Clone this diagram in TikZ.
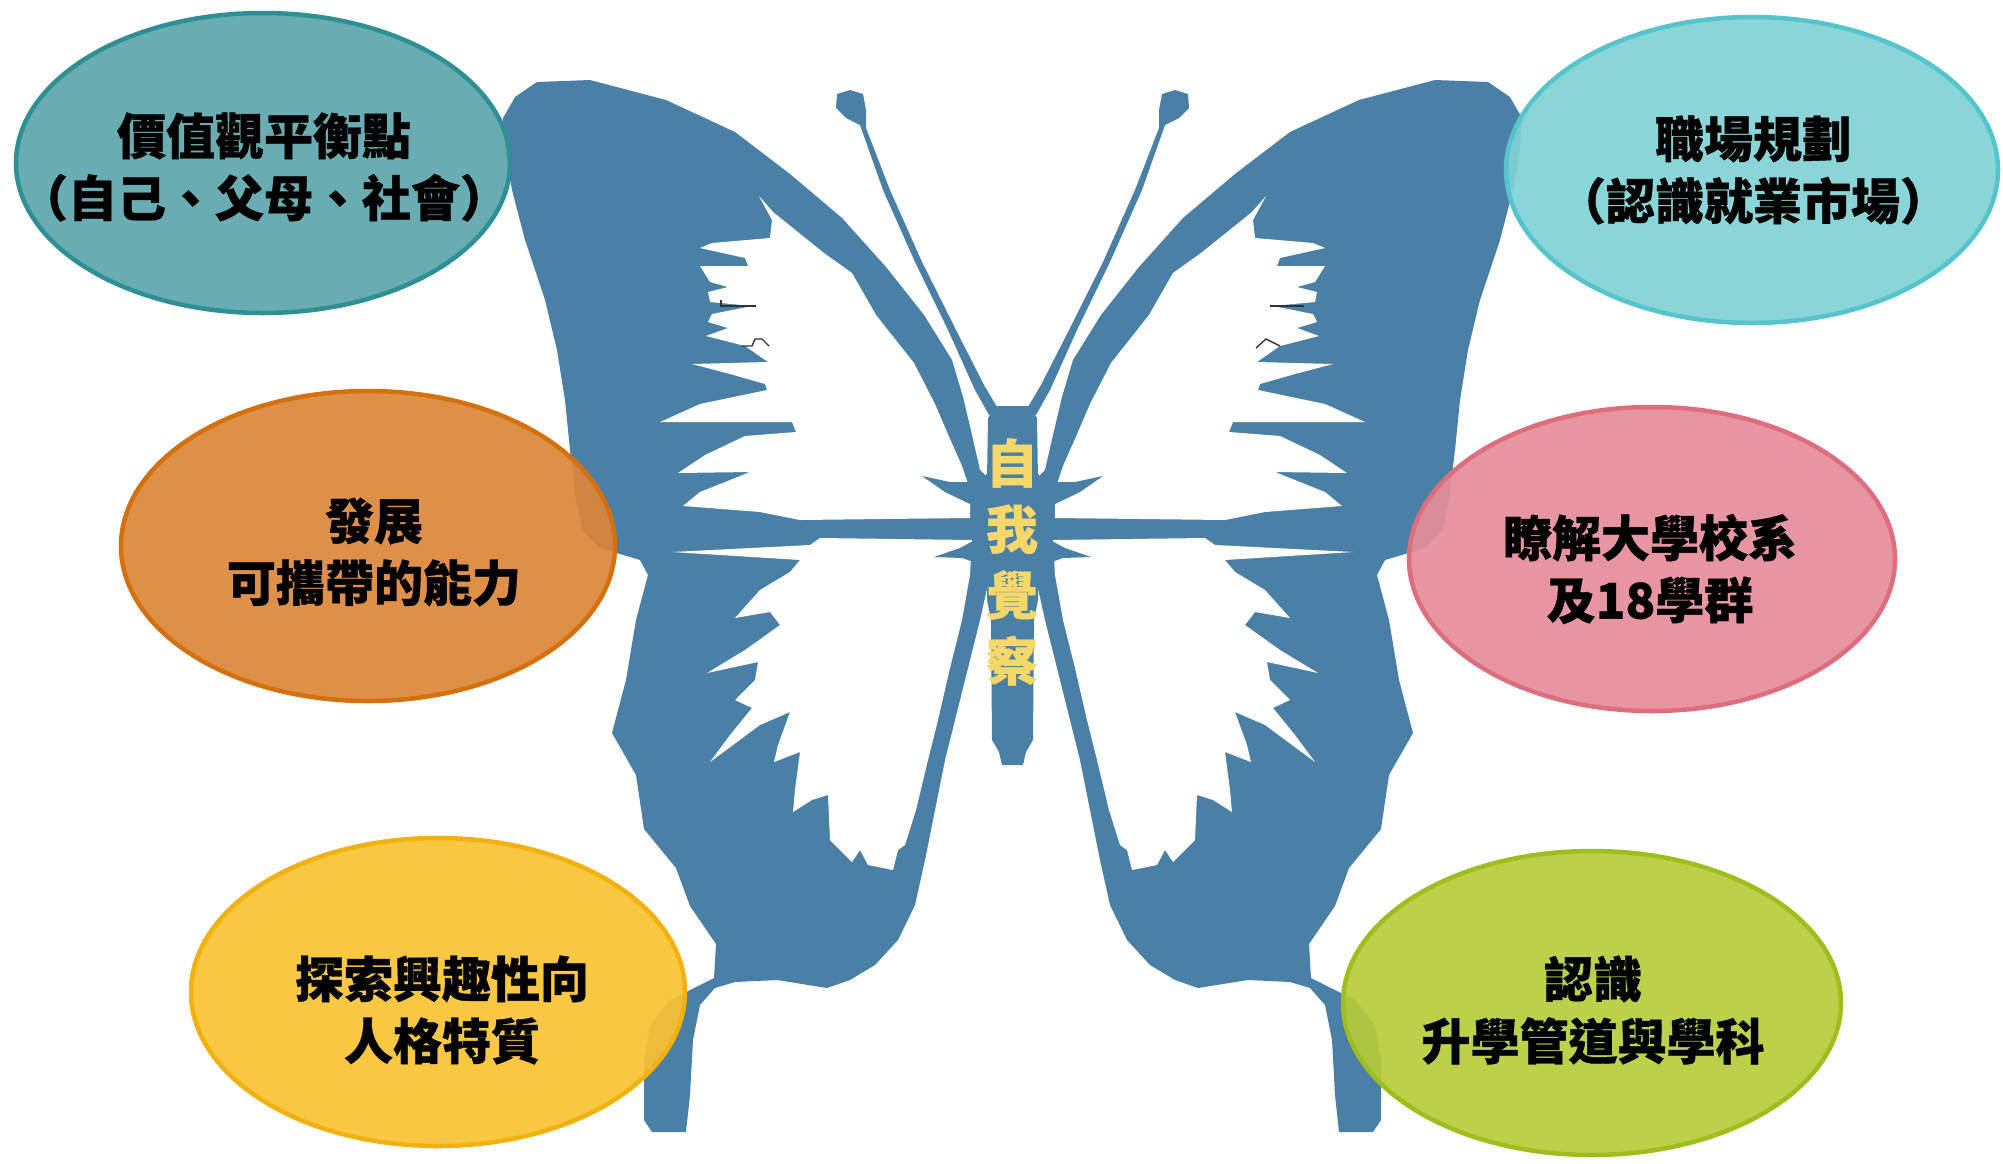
\documentclass[tikz,border=0pt]{standalone}
\usepackage{fontspec}
\usetikzlibrary{shapes.geometric}
\newfontfamily\cjkfont{Noto Sans CJK TC}[BoldFeatures={FakeBold=0.8}]
\definecolor{bflyblue}{HTML}{4A7FA6}
\definecolor{coretext}{HTML}{F6D86A}
\definecolor{tealF}{HTML}{5DA7AC}\definecolor{tealD}{HTML}{2E9096}
\definecolor{cyanF}{HTML}{80D2D5}\definecolor{cyanD}{HTML}{55C4CC}
\definecolor{orangeF}{HTML}{DC873A}\definecolor{orangeD}{HTML}{D5700F}
\definecolor{pinkF}{HTML}{E68E9A}\definecolor{pinkD}{HTML}{DE6E7E}
\definecolor{yellowF}{HTML}{FAC334}\definecolor{yellowD}{HTML}{F2B10E}
\definecolor{greenF}{HTML}{B7CC3A}\definecolor{greenD}{HTML}{9EBE1E}
\newcommand\bflyhalf{%
  % wing silhouette
  \fill[wingfill] (537,82) -- (590,80) -- (666,100) -- (735,132) -- (790,174) -- (842,218) -- (886,267) -- (924,315) -- (952,360) -- (963,397) -- (972,435) -- (980,470) -- (990,480) -- (990,575) -- (980,620) -- (968,668) -- (955,720) -- (945,760) -- (935,810) -- (925,860) -- (915,905) -- (898,940) -- (875,965) -- (850,980) -- (827,988) -- (777,980) -- (735,982) -- (715,988) -- (700,1005) -- (693,1040) -- (690,1095) -- (686,1132) -- (652,1132) -- (644,1120) -- (644,1060) -- (650,1025) -- (670,1000) -- (714,978) -- (716,944) -- (690,906) -- (676,868) -- (644,829) -- (636,775) -- (612,733) -- (626,680) -- (636,620) -- (648,575) -- (640,560) -- (600,548) -- (582,530) -- (576,500) -- (570,450) -- (565,400) -- (557,350) -- (545,300) -- (525,240) -- (512,190) -- (505,150) -- (503,118) -- (515,97) -- cycle;
  % forewing white patch
  \fill[holefill] (759,196) -- (773,212) -- (824,253) -- (852,273) -- (876,315) -- (914,363) -- (935,404) -- (950,439) -- (962,466) -- (970,490) -- (970,518) -- (800,520) -- (760,512) -- (683,506) -- (700,492) -- (750,472) -- (678,473) -- (705,455) -- (745,436) -- (796,432) -- (792,422) -- (660,422) -- (700,404) -- (767,390) -- (765,384) -- (730,374) -- (692,364) -- (768,362) -- (745,346) -- (706,336) -- (728,328) -- (708,322) -- (712,314) -- (752,306) -- (710,302) -- (708,292) -- (728,287) -- (710,282) -- (700,266) -- (748,266) -- (745,258) -- (700,248) -- (712,243) -- (770,238) -- (772,220) -- cycle;
  % hindwing white patch
  \fill[holefill] (972,540) -- (820,538) -- (810,545) -- (672,552) -- (800,560) -- (790,572) -- (760,590) -- (735,618) -- (770,612) -- (780,625) -- (745,650) -- (707,673) -- (758,662) -- (755,680) -- (735,700) -- (752,708) -- (730,735) -- (710,762) -- (760,725) -- (790,712) -- (778,745) -- (774,762) -- (800,752) -- (795,790) -- (793,812) -- (812,800) -- (828,795) -- (830,840) -- (838,848) -- (852,862) -- (860,850) -- (868,865) -- (893,870) -- (898,850) -- (905,845) -- (916,810) -- (928,760) -- (938,720) -- (950,668) -- (962,620) -- (970,575) -- cycle;
  % thorax with legs
  \fill[wingfill] (1012,468) -- (990,468) -- (982,482) -- (950,482) -- (922,476) -- (945,492) -- (972,505) -- (980,518) -- (975,540) -- (960,548) -- (934,557) -- (962,558) -- (982,565) -- (990,580) -- (1012,585) -- cycle;
  % antenna
  \fill[wingfill] (989,415) -- (975,390) -- (948,330) -- (915,262) -- (883,190) -- (860,125) -- (846,118) -- (836,108) -- (837,94) -- (850,90) -- (863,94) -- (866,110) -- (866,128) -- (890,190) -- (922,262) -- (956,330) -- (984,385) -- (1000,412) -- cycle;
}
\begin{document}
\begin{tikzpicture}[x=1pt,y=-1pt,
  wingfill/.style={fill=bflyblue},
  holefill/.style={fill=white},
  bubble/.style={ellipse, line width=4.5pt, fill opacity=0.92, inner sep=0pt},
  lab/.style={align=center, text=black, font=\cjkfont\bfseries\fontsize{49}{62}\selectfont},
  coretxt/.style={align=center, text=coretext, font=\cjkfont\bfseries\fontsize{52}{66}\selectfont},
  scribble/.style={draw=black!80, line width=1.4pt}]
\useasboundingbox (0,0) rectangle (2003,1163);
\fill[white] (0,0) rectangle (2003,1163);
% butterfly
\bflyhalf
\begin{scope}[xshift=2025pt, xscale=-1]
  \bflyhalf
\end{scope}
\fill[wingfill] (996,406) -- (1029,406) -- (1037,418) -- (1038,480) -- (1038,600) -- (1034,620) -- (1033,740) -- (1026,752) -- (1023,765) -- (1002,765) -- (999,752) -- (992,740) -- (991,620) -- (987,600) -- (987,480) -- (988,418) -- cycle;
% small marks
\draw[scribble] (721,300) -- (721,306) -- (756,306);
\draw[scribble] (742,346) -- (752,346) -- (755,339) -- (762,339) -- (769,346);
\draw[scribble] (1270,306) -- (1304,306);
\draw[scribble] (1256,348) -- (1266,339) -- (1280,346);
\node[coretxt] (core) at (1012,562) {自\\我\\覺\\察};
% bubbles
\node[bubble, fill=tealF, draw=tealD, minimum width=494pt, minimum height=300pt] (b1) at (263,163) {};
\node[bubble, fill=cyanF, draw=cyanD, minimum width=492pt, minimum height=306pt] (b2) at (1752,170) {};
\node[bubble, fill=orangeF, draw=orangeD, minimum width=494pt, minimum height=310pt] (b3) at (368,546) {};
\node[bubble, fill=pinkF, draw=pinkD, minimum width=486pt, minimum height=304pt] (b4) at (1652,559) {};
\node[bubble, fill=yellowF, draw=yellowD, minimum width=494pt, minimum height=308pt] (b5) at (438,992) {};
\node[bubble, fill=greenF, draw=greenD, minimum width=498pt, minimum height=304pt] (b6) at (1592,1003) {};
% labels
\node[lab] (t1) at (264,167) {價值觀平衡點\\（自己、父母、社會）};
\node[lab] (t2) at (1753,170) {職場規劃\\（認識就業市場）};
\node[lab] (t3) at (374,552) {發展\\可攜帶的能力};
\node[lab] (t4) at (1650,569) {瞭解大學校系\\及18學群};
\node[lab] (t5) at (442,1010) {探索興趣性向\\人格特質};
\node[lab] (t6) at (1593,1010) {認識\\升學管道與學科};
\end{tikzpicture}
\end{document}
